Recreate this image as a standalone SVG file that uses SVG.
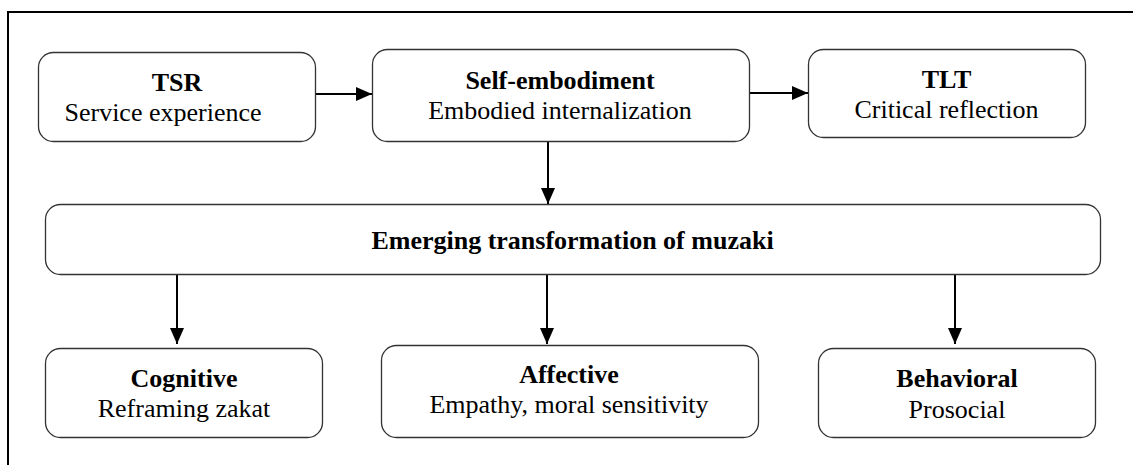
<svg xmlns="http://www.w3.org/2000/svg" width="1133" height="465" viewBox="0 0 1133 465">
<style>
.box{fill:#fff;stroke:#333;stroke-width:1.3}
text{font-family:'Liberation Serif','Times New Roman','DejaVu Serif',serif;font-size:26px;fill:#000;text-anchor:middle}
.b{font-weight:bold}
.c{stroke:#000;stroke-width:2;fill:none}
</style>
<defs>
<marker id="ah" viewBox="0 0 16 14" refX="16" refY="7" markerWidth="16" markerHeight="14" markerUnits="userSpaceOnUse" orient="auto">
<path d="M0,0 L16,7 L0,14 Z" fill="#000"/>
</marker>
</defs>
<rect width="1133" height="465" fill="#fff"/>
<path d="M8,465 V12 H1133" fill="none" stroke="#000" stroke-width="2"/>
<g id="connectors">
<line class="c" x1="315" y1="94" x2="372" y2="94" marker-end="url(#ah)"/>
<line class="c" x1="749" y1="93" x2="808" y2="93" marker-end="url(#ah)"/>
<line class="c" x1="548" y1="141" x2="548" y2="204" marker-end="url(#ah)"/>
<line class="c" x1="177" y1="274" x2="177" y2="344" marker-end="url(#ah)"/>
<line class="c" x1="547" y1="274" x2="547" y2="344" marker-end="url(#ah)"/>
<line class="c" x1="955" y1="274" x2="955" y2="344" marker-end="url(#ah)"/>
</g>
<g id="tsr">
<rect class="box" x="38.5" y="52.5" width="277" height="89" rx="15"/>
<text class="b" x="177" y="91" font-family="Liberation Serif, serif">TSR</text>
<text x="163" y="121" font-family="Liberation Serif, serif">Service experience</text>
</g>
<g id="self">
<rect class="box" x="372.5" y="49.5" width="377" height="92" rx="15"/>
<text class="b" x="560" y="89" font-family="Liberation Serif, serif">Self-embodiment</text>
<text x="560" y="119" font-family="Liberation Serif, serif">Embodied internalization</text>
</g>
<g id="tlt">
<rect class="box" x="808.5" y="49.5" width="277" height="88" rx="15"/>
<text class="b" x="946.5" y="88" font-family="Liberation Serif, serif">TLT</text>
<text x="946.5" y="118" font-family="Liberation Serif, serif">Critical reflection</text>
</g>
<g id="emerging">
<rect class="box" x="45.5" y="204.5" width="1055" height="70" rx="15"/>
<text class="b" x="572.5" y="249" font-family="Liberation Serif, serif">Emerging transformation of muzaki</text>
</g>
<g id="cognitive">
<rect class="box" x="45.5" y="348.5" width="277" height="89" rx="15"/>
<text class="b" x="184" y="387" font-family="Liberation Serif, serif">Cognitive</text>
<text x="184" y="417" font-family="Liberation Serif, serif">Reframing zakat</text>
</g>
<g id="affective">
<rect class="box" x="381.5" y="345.5" width="377" height="92" rx="15"/>
<text class="b" x="569" y="383" font-family="Liberation Serif, serif">Affective</text>
<text x="569" y="413" font-family="Liberation Serif, serif">Empathy, moral sensitivity</text>
</g>
<g id="behavioral">
<rect class="box" x="818.5" y="348.5" width="277" height="89" rx="15"/>
<text class="b" x="957" y="387" font-family="Liberation Serif, serif">Behavioral</text>
<text x="957" y="418" font-family="Liberation Serif, serif">Prosocial</text>
</g>
</svg>
